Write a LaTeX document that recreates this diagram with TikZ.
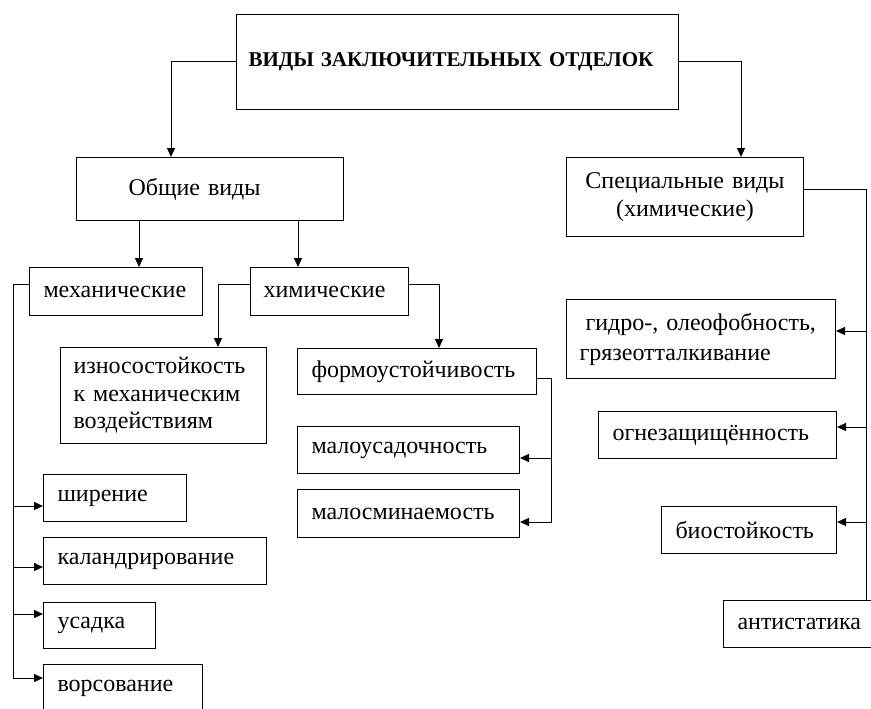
\documentclass[tikz,border=0pt]{standalone}
\usepackage{fontspec}
\setmainfont{Liberation Serif}
\usetikzlibrary{arrows.meta}
\tikzset{
	box/.style={draw,line width=1pt,anchor=north west,align=left,inner xsep=14pt,inner ysep=0pt},
	arr/.style={-{Triangle[length=9pt,width=8pt]},line width=1pt},
	bus/.style={line width=1pt},
}
\begin{document}
\begin{tikzpicture}[x=1pt,y=-1pt,font=\fontsize{24}{28}\selectfont]
		\useasboundingbox (0,0) rectangle (871,709);
		\node[box,inner xsep=12pt,text width=418pt,minimum height=95pt,font=\fontsize{21}{24}\selectfont\bfseries] (title) at (236,14) {ВИДЫ ЗАКЛЮЧИТЕЛЬНЫХ ОТДЕЛОК};
		\node[box,inner xsep=52pt,text width=163pt,minimum height=63pt] (obshie) at (76,157) {Общие виды};
		\node[box,align=center,text width=209pt,minimum height=79pt] (spec) at (566,157) {Специальные виды\\(химические)};
		\node[box,text width=145pt,minimum height=48pt] (mech) at (29,267) {механические};
		\node[box,inner xsep=13pt,text width=132pt,minimum height=48pt] (chim) at (250,267) {химические};
		\node[box,inner xsep=13pt,text width=180pt,minimum height=96pt,font=\fontsize{24}{27.5}\selectfont] (iznos) at (60,347) {износостойкость\\к механическим\\воздействиям};
		\node[box,text width=211pt,minimum height=46pt] (forma) at (297,348) {формоустойчивость};
		\node[box,text width=194pt,minimum height=47pt] (malous) at (297,426) {малоусадочность};
		\node[box,text width=194pt,minimum height=48pt] (malosm) at (297,489) {малосминаемость};
		\node[box,text width=115pt,minimum height=47pt] (shir) at (43,474) {ширение};
		\node[box,text width=195pt,minimum height=47pt] (kaland) at (43,537) {каландрирование};
		\node[box,text width=84pt,minimum height=46pt] (usad) at (43,602) {усадка};
		\node[box,text width=131pt,minimum height=47pt] (vors) at (43,664) {ворсование};
		\node[box,inner xsep=13pt,text width=243pt,minimum height=79pt,font=\fontsize{24}{30}\selectfont] (gidro) at (566,299) {\hspace*{6pt}гидро-, олеофобность,\\грязеотталкивание};
		\node[box,text width=210pt,minimum height=47pt] (ogne) at (598,411) {огнезащищённость};
		\node[box,text width=147pt,minimum height=47pt] (bio) at (661,506) {биостойкость};
		\node[box,text width=140pt,minimum height=47pt] (anti) at (723,600) {антистатика};
		\draw[arr] (title.west) -| ([xshift=95pt]obshie.north west);
		\draw[arr] (title.east) -| ([xshift=175pt]spec.north west);
		\draw[arr] ([xshift=63pt]obshie.south west) -- ([xshift=110pt]mech.north west);
		\draw[arr] ([xshift=222pt]obshie.south west) -- ([xshift=48pt]chim.north west);
		\draw[arr] ([yshift=-17pt]mech.north west) -- ++(-16,0) |- ([yshift=-14pt]vors.north west);
		\foreach \n/\d in {shir/32,kaland/30,usad/12}
			\draw[arr] ([xshift=-30pt,yshift=-\d pt]\n.north west) -- ([yshift=-\d pt]\n.north west);
		\draw[arr] ([yshift=-17pt]chim.north west) -| ([xshift=158pt]iznos.north west);
		\draw[arr] ([yshift=-17pt]chim.north east) -| ([xshift=142pt]forma.north west);
		\draw[arr] ([yshift=-30pt]forma.north east) -- ++(14,0) |- ([yshift=-33pt]malosm.north east);
		\draw[arr] ([xshift=31pt,yshift=-32pt]malous.north east) -- ([yshift=-32pt]malous.north east);
		\draw[bus] ([yshift=-32pt]spec.north east) -| ([xshift=143pt]anti.north west);
		\foreach \n/\dx/\d in {gidro/31/32,ogne/30/16,bio/30/16}
			\draw[arr] ([xshift=\dx pt,yshift=-\d pt]\n.north east) -- ([yshift=-\d pt]\n.north east);
	\end{tikzpicture}
\end{document}
